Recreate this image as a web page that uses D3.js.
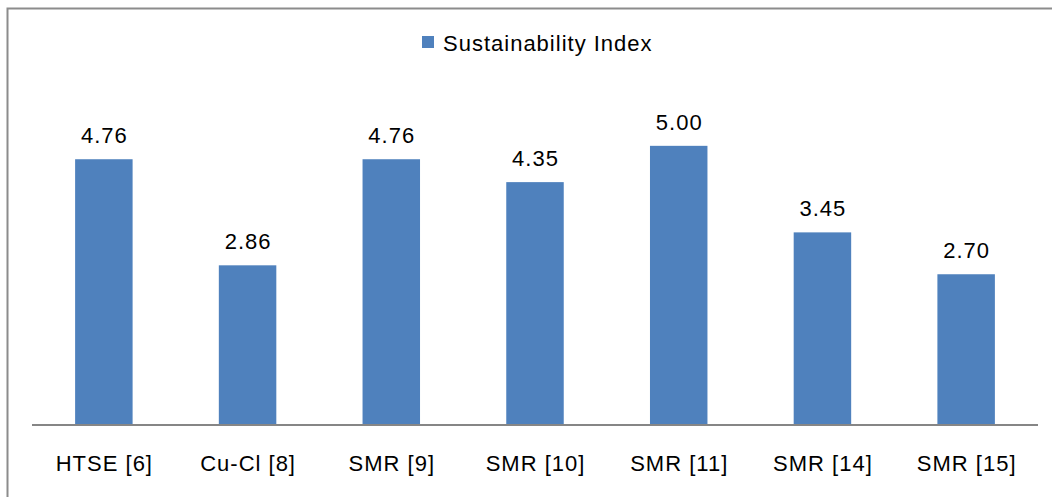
<!DOCTYPE html>
<html><head><meta charset="utf-8">
<script src="https://cdn.jsdelivr.net/npm/d3@7"></script>
<style>body{margin:0;background:#fff}svg{display:block}</style>
</head><body>
<svg id="c" width="1052" height="497"></svg>
<script>
const categories = ["HTSE [6]","Cu-Cl [8]","SMR [9]","SMR [10]","SMR [11]","SMR [14]","SMR [15]"];
const values = [4.76, 2.86, 4.76, 4.35, 5.00, 3.45, 2.70];
const seriesName = "Sustainability Index";

const svg = d3.select("#c");
const font = "Liberation Sans, Arial, sans-serif";
const ls = 1.0;
const fs = 22;
svg.append("rect").attr("x",7.5).attr("y",8.5).attr("width",1100).attr("height",600)
  .attr("fill","none").attr("stroke","#8c8c8c").attr("stroke-width",2);

const x = d3.scaleBand().domain(categories).range([32,1038]).paddingInner(0.6).paddingOuter(0.3);
const y = d3.scaleLinear().domain([0,6]).range([425,90]);

svg.selectAll("rect.bar").data(values).enter().append("rect").attr("class","bar")
  .attr("x",(d,i)=>x(categories[i])).attr("width",x.bandwidth())
  .attr("y",d=>y(d)).attr("height",d=>y(0)-y(d)).attr("fill","#4F81BD");

svg.selectAll("text.val").data(values).enter().append("text").attr("class","val")
  .attr("x",(d,i)=>x(categories[i])+x.bandwidth()/2+ls/2).attr("y",d=>y(d)-16)
  .attr("text-anchor","middle").attr("font-family",font).attr("font-size",fs)
  .attr("letter-spacing",ls).attr("fill","#000")
  .text(d=>d.toFixed(2));

const xa = svg.append("g").attr("transform","translate(0,425)")
  .call(d3.axisBottom(x).tickSize(0).tickPadding(0));
xa.select(".domain").attr("stroke","#868686").attr("stroke-width",2).attr("d","M32,0H1038");
xa.selectAll("text").attr("font-family",font).attr("font-size",fs).attr("fill","#000")
  .attr("letter-spacing",ls).attr("dx",ls/2).attr("dy",0).attr("y",46);

const lg = svg.append("g");
lg.append("rect").attr("x",422).attr("y",36).attr("width",12).attr("height",12).attr("fill","#4F81BD");
lg.append("text").attr("x",443).attr("y",51).attr("font-family",font).attr("font-size",fs)
  .attr("letter-spacing",ls).attr("fill","#000").text(seriesName);
</script>
</body></html>
